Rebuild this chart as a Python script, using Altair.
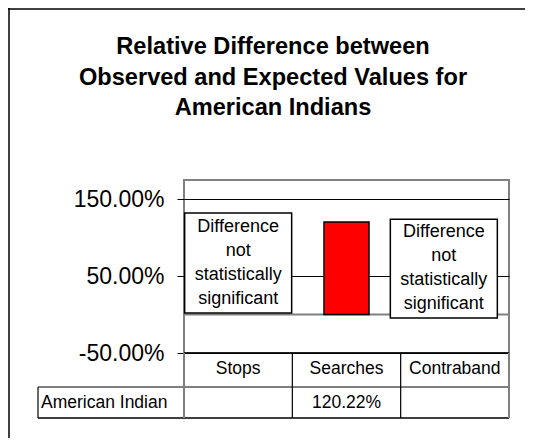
import altair as alt
import pandas as pd

# ---- data ----
categories = ["Stops", "Searches", "Contraband"]
values = [None, 120.22, None]          # relative difference (%), None = not significant
significant = [False, True, False]
row_label = "American Indian"
note_lines = ["Difference", "not", "statistically", "significant"]
title_lines = [
    "Relative Difference between",
    "Observed and Expected Values for",
    "American Indians",
]
y_ticks = [-50, 50, 150]
y_domain = [-50, 175]

df = pd.DataFrame({
    "category": categories,
    "value": values,
    "significant": significant,
    "cell": [f"{v:.2f}%" if v is not None else "" for v in values],
})
one = pd.DataFrame({"k": [0]})

FONT = "Liberation Sans"
W, H = 325, 173

xscale = alt.Scale(domain=categories, paddingInner=0, paddingOuter=0)
xenc = alt.X("category:N", sort=categories, scale=xscale, axis=None)
xedge = alt.X("category:N", sort=categories, scale=xscale, axis=None, bandPosition=0)
yscale = alt.Scale(domain=y_domain, nice=False, zero=False)

base = alt.Chart(df)

yaxis = alt.Axis(
    values=y_ticks,
    labelExpr="(datum.value < 0 ? '-' : '') + format(abs(datum.value), '.2f') + '%'",
    labelFont=FONT,
    labelFontSize=23,
    labelColor="black",
    labelPadding=13,
    tickSize=7,
    tickColor="black",
    tickWidth=1,
    domain=False,
    grid=True,
    gridColor="black",
    gridWidth=1,
    gridOpacity=1,
    title=None,
)

# zero line (category axis)
zero_line = alt.Chart(one).mark_rule(color="#808080", strokeWidth=2).encode(
    y=alt.Y("k:Q", scale=yscale, axis=yaxis),
    x=alt.value(0),
    x2=alt.value(W),
)

bars = base.transform_filter("datum.significant").mark_bar(
    size=45, color="#FF0000", stroke="black", strokeWidth=1.5
).encode(
    x=xenc,
    y=alt.Y("value:Q", scale=yscale),
    y2=alt.datum(0),
)

box_stops = base.transform_filter("datum.category == 'Stops'").mark_bar(
    size=107, fill="white", stroke="black", strokeWidth=1.5
).encode(x=xenc, y=alt.datum(132), y2=alt.datum(2))

box_contra = base.transform_filter("datum.category == 'Contraband'").mark_bar(
    size=107, fill="white", stroke="black", strokeWidth=1.5, xOffset=-11
).encode(x=xenc, y=alt.datum(124), y2=alt.datum(-4.4))

note_stops = base.transform_filter("datum.category == 'Stops'").mark_text(
    text=note_lines, font=FONT, fontSize=18, lineHeight=24,
    baseline="middle", align="center", color="black"
).encode(x=xenc, y=alt.datum(114.3))

note_contra = base.transform_filter("datum.category == 'Contraband'").mark_text(
    text=note_lines, font=FONT, fontSize=18, lineHeight=24,
    baseline="middle", align="center", color="black", dx=-11
).encode(x=xenc, y=alt.datum(107.8))

# ---- data table below the plot ----
TOP, MID, BOT, LEFT = H, 207, 238, -146

table_top = alt.Chart(one).mark_rule(color="black", strokeWidth=1.5).encode(
    x=alt.value(0), x2=alt.value(W), y=alt.value(TOP)
)
row_sep = alt.Chart(one).mark_rule(color="black", strokeWidth=1.2).encode(
    x=alt.value(LEFT), x2=alt.value(W), y=alt.value(MID)
)
row_bot = alt.Chart(one).mark_rule(color="black", strokeWidth=1.5).encode(
    x=alt.value(LEFT), x2=alt.value(W), y=alt.value(BOT)
)
label_left = alt.Chart(one).mark_rule(color="black", strokeWidth=1.2).encode(
    x=alt.value(LEFT), y=alt.value(MID), y2=alt.value(BOT)
)
col_seps = base.transform_filter("datum.category != 'Stops'").mark_rule(
    color="black", strokeWidth=1.2
).encode(x=xedge, y=alt.value(TOP), y2=alt.value(BOT))
outer_left = alt.Chart(one).mark_rule(color="#808080", strokeWidth=2).encode(
    x=alt.value(0), y=alt.value(TOP), y2=alt.value(BOT)
)
outer_right = alt.Chart(one).mark_rule(color="#808080", strokeWidth=2).encode(
    x=alt.value(W), y=alt.value(TOP), y2=alt.value(BOT)
)

header_text = base.mark_text(font=FONT, fontSize=17.5, color="black").encode(
    x=xenc, y=alt.value(189), text="category:N"
)
cell_text = base.mark_text(font=FONT, fontSize=17.5, color="black").encode(
    x=xenc, y=alt.value(223), text="cell:N"
)
row_text = alt.Chart(one).mark_text(
    font=FONT, fontSize=17.5, color="black", align="left"
).encode(x=alt.value(LEFT + 3), y=alt.value(223), text=alt.value(row_label))

# chart title (three centred bold lines)
title_text = alt.Chart(one).mark_text(
    text=title_lines, font=FONT, fontSize=23.6, fontWeight="bold", color="black",
    lineHeight=30.5, baseline="middle", align="center"
).encode(x=alt.value(89), y=alt.value(-133))

# outer chart frame (left and top edges visible)
frame_left = alt.Chart(one).mark_rule(color="black", strokeWidth=1.5).encode(
    x=alt.value(-175), y=alt.value(-172), y2=alt.value(H + 85)
)
frame_top = alt.Chart(one).mark_rule(color="black", strokeWidth=1.5).encode(
    x=alt.value(-176), x2=alt.value(W + 16), y=alt.value(-171)
)

chart = alt.layer(
    zero_line, bars, box_stops, box_contra, note_stops, note_contra,
    table_top, row_sep, row_bot, label_left, col_seps, outer_left, outer_right,
    header_text, cell_text, row_text, title_text, frame_left, frame_top,
).properties(
    width=W,
    height=H,
    autosize=alt.AutoSizeParams(type="none"),
    padding={"left": 176, "top": 172, "right": 16, "bottom": 85},
).configure(
    background="white",
    view=alt.ViewConfig(stroke="#808080", strokeWidth=2),
)

chart.save("out.html", embed_options={"renderer": "svg", "actions": False})
